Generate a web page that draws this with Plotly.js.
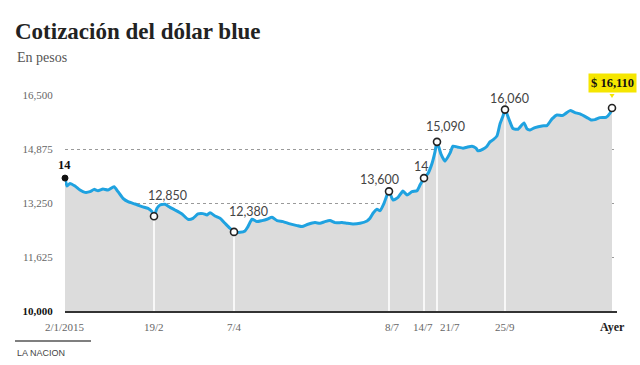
<!DOCTYPE html>
<html>
<head>
<meta charset="utf-8">
<script src="https://cdn.plot.ly/plotly-3.0.1.min.js"></script>
<style>
  html, body { margin: 0; padding: 0; background: #ffffff; }
  #chart { width: 640px; height: 365px; }
</style>
</head>
<body>
<div id="chart"></div>
<script>
// ---- data (position along the chart's time axis, 2/1/2015 = 0 ... "Ayer" = 547) ----
const t = [0,2,5,10,15,20,25,29,33,38,43,49,53,58,63,70,77,83,87,89,
  92,95,100,105,110,117,123,128,133,138,142,145,150,155,160,165,169,175,180,183,
  187,192,197,202,207,212,218,225,232,237,243,250,255,260,265,270,277,282,288,295,
  302,305,308,312,315,319,322,324,328,333,338,342,347,352,355,359,363,367,370,372,
  376,380,385,388,393,398,402,407,411,413,418,422,425,428,432,435,438,440,445,448,
  453,459,462,465,470,477,482,487,492,497,500,505,510,515,522,526,530,535,541,545,547];

const rate = [14000,13760,13840,13760,13640,13570,13590,13660,13620,13670,
  13640,13740,13590,13390,13290,13220,13140,13090,12990,12850,
  13090,13190,13210,13120,13040,12920,12760,12790,12920,12930,
  12890,12960,12860,12790,12640,12490,12380,12370,12410,12540,
  12760,12690,12720,12760,12820,12720,12690,12620,12570,12540,
  12610,12660,12640,12690,12720,12660,12660,12640,12620,12640,
  12710,12790,12940,13060,13020,13240,13490,13600,13340,13420,
  13610,13490,13590,13620,13790,14000,14140,14440,14790,15090,
  14720,14510,14750,14960,14930,14900,14930,14960,14900,14820,
  14870,14960,15090,15150,15270,15630,15870,16060,15690,15490,
  15470,15660,15480,15450,15520,15570,15580,15780,15900,15880,
  15930,16030,15970,15930,15820,15750,15760,15820,15830,15950,16110];

// highlighted points
const markT = [0, 89, 169, 324, 359, 372, 440, 547];
const markLabels = ['14', '12,850', '12,380', '13,600', '14', '15,090', '16,060', '$ 16,110'];

// x tick labels
const tickT = [0, 89, 169, 324, 359, 372, 440, 547];
const tickLabels = ['2/1/2015', '19/2', '7/4', '8/7', '14/7', '21/7', '25/9', 'Ayer'];

// y ticks
const yTicks = [10000, 11625, 13250, 14875, 16500];
const yTickLabels = ['10,000', '11,625', '13,250', '14,875', '16,500'];

// ---- styling ----
const markV = markT.map(v => rate[t.indexOf(v)]);
// label offsets in px: [right, up]
const labelOffset = [[-1,13],[13,21],[14,20],[-10,12],[-3,12],[8,15],[4,11],[0,25]];
const tickNudge = [0, 0, 0, 3, -1, 13, 0, 0];
const BLUE = '#1fa2e0';
const YELLOW = '#f5e600';
const SERIF = 'Liberation Serif, Times New Roman, serif';

// vertical white guides (inner highlighted points)
const gx = [], gy = [];
for (let i = 1; i < markT.length - 1; i++) {
  gx.push(markT[i], markT[i], null);
  gy.push(10000, markV[i], null);
}

const traces = [
  { x: t, y: rate, type: 'scatter', mode: 'lines', fill: 'tozeroy',
    fillcolor: '#dcdcdc', line: { width: 0, color: 'rgba(0,0,0,0)' }, hoverinfo: 'skip' },
  { x: gx, y: gy, type: 'scatter', mode: 'lines',
    line: { color: '#ffffff', width: 1.6 }, hoverinfo: 'skip' },
  { x: t, y: rate, type: 'scatter', mode: 'lines',
    line: { color: BLUE, width: 3, shape: 'spline', smoothing: 0.5 }, hoverinfo: 'skip' },
  { x: markT.slice(1), y: markV.slice(1), type: 'scatter', mode: 'markers',
    marker: { size: 7, color: '#ffffff', line: { color: '#222', width: 1.6 } }, hoverinfo: 'skip', cliponaxis: false },
  { x: markT.slice(0, 1), y: markV.slice(0, 1), type: 'scatter', mode: 'markers',
    marker: { size: 6, color: '#111', line: { color: '#111', width: 1 } }, hoverinfo: 'skip', cliponaxis: false }
];

const annotations = [];
markT.forEach((mt, i) => {
  const last = i === markT.length - 1;
  const first = i === 0;
  annotations.push({
    x: mt, y: markV[i], xref: 'x', yref: 'y',
    text: (first || last) ? '<b>' + markLabels[i] + '</b>' : markLabels[i],
    showarrow: false, xanchor: 'center', yanchor: 'middle',
    xshift: labelOffset[i][0], yshift: labelOffset[i][1],
    font: (first || last) ? { family: SERIF, size: 12.5, color: '#111' }
                          : { family: 'Lato, Open Sans, sans-serif', size: 12.5, color: '#444' },
    bgcolor: last ? YELLOW : 'rgba(0,0,0,0)',
    borderpad: last ? 2 : 0
  });
});

tickT.forEach((tt, i) => {
  const last = i === tickT.length - 1;
  annotations.push({
    x: tt, y: 0, xref: 'x', yref: 'paper',
    text: last ? '<b>' + tickLabels[i] + '</b>' : tickLabels[i],
    showarrow: false, xanchor: 'center', yanchor: 'middle',
    xshift: tickNudge[i], yshift: -16,
    font: { family: SERIF, size: last ? 12 : 11, color: last ? '#222' : '#666' }
  });
});

annotations.push({
  x: -0.0906, y: 1.1705, xref: 'paper', yref: 'paper', text: 'En pesos',
  showarrow: false, xanchor: 'left', yanchor: 'middle',
  font: { family: SERIF, size: 14, color: '#555' }
});
annotations.push({
  x: -0.0906, y: -0.1935, xref: 'paper', yref: 'paper', text: 'LA NACION',
  showarrow: false, xanchor: 'left', yanchor: 'middle',
  font: { family: 'Liberation Sans, Arial, sans-serif', size: 9, color: '#444' }
});

const lastI = markT.length - 1;
const layout = {
  width: 640, height: 365,
  margin: { l: 65, r: 23, t: 94, b: 54 },
  paper_bgcolor: '#ffffff', plot_bgcolor: '#ffffff',
  showlegend: false,
  title: {
    text: 'Cotización del dólar blue',
    x: 15 / 640, xref: 'container', xanchor: 'left',
    y: 1 - 31 / 365, yref: 'container', yanchor: 'middle',
    font: { family: SERIF, size: 23, color: '#222', weight: 700 }
  },
  xaxis: {
    range: [0, 552], showgrid: false, zeroline: false, showticklabels: false,
    showline: true, linecolor: '#333', linewidth: 2, ticks: '', fixedrange: true
  },
  yaxis: {
    range: [10000, 16530], zeroline: false, showline: false,
    tickmode: 'array', tickvals: yTicks,
    ticktext: yTickLabels.map((s, i) => i === 0 ? '<b><span style="color:#111">' + s + '</span></b>' : s),
    tickfont: { family: SERIF, size: 11, color: '#666' },
    ticks: 'outside', ticklen: 9, tickcolor: 'rgba(0,0,0,0)',
    showgrid: true, gridcolor: '#9a9a9a', gridwidth: 1, griddash: 'dot', fixedrange: true
  },
  shapes: [
    { type: 'line', xref: 'paper', yref: 'paper', x0: -0.0906, x1: 0.0471, y0: -0.138, y1: -0.138,
      line: { color: '#555', width: 1.5 } },
    // callout pointer under the yellow label
    { type: 'path', xref: 'x', yref: 'y', xsizemode: 'pixel', ysizemode: 'pixel',
      xanchor: markT[lastI], yanchor: markV[lastI],
      path: 'M -4.5 17 L 4.5 17 L 0 10 Z',
      fillcolor: YELLOW, line: { width: 0 }, layer: 'above' }
  ],
  annotations: annotations
};

Plotly.newPlot('chart', traces, layout, { displayModeBar: false, staticPlot: true });
</script>
</body>
</html>
